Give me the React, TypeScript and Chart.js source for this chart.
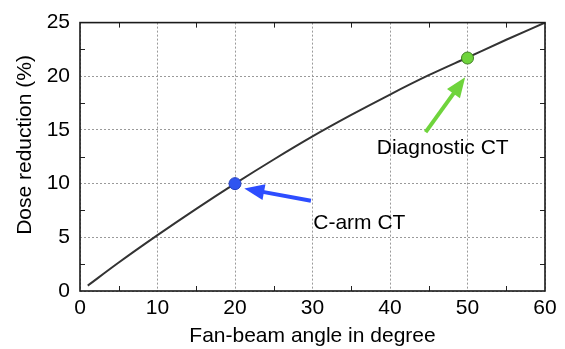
import React, { useEffect, useRef } from "react";
import { Chart, registerables } from "chart.js";

Chart.register(...registerables);

// Curve: fan-beam angle (deg) vs dose reduction (%)
const angles = [1, 5, 10, 15, 20, 25, 30, 35, 40, 45, 50, 55, 60];
const doseReduction = [0.5, 2.65, 5.2, 7.65, 10.0, 12.25, 14.4, 16.4, 18.3, 20.1, 21.75, 23.4, 25.0];

// Highlighted scanners
const markerLabels = ["C-arm CT", "Diagnostic CT"];
const markerX = [20, 50];
const markerY = [10.0, 21.7];
const markerFill = ["#2f55f0", "#6fd43c"];
const markerBorder = ["#2540c0", "#3f7f22"];

// Arrows (tail -> tip) and annotation text positions, in data units
const arrowTailX = [29.8, 44.6];
const arrowTailY = [8.4, 14.8];
const arrowTipX = [21.2, 49.7];
const arrowTipY = [9.55, 19.9];
const arrowColor = ["#2d4dff", "#6fd43c"];
const textX = [30.1, 46.8];
const textY = [6.35, 13.3];
const textAlign = ["left", "center"];

// Axes
const xMin = 0, xMax = 60, xStep = 10, xMinor = [5, 15, 25, 35, 45, 55];
const yMin = 0, yMax = 25, yStep = 5, yMinor = [2.5, 7.5, 12.5, 17.5, 22.5];
const xTitle = "Fan-beam angle in degree";
const yTitle = "Dose reduction (%)";

const FONT = "'Liberation Sans', Arial, sans-serif";
const FS = 21;

const overlay = {
  id: "overlay",
  afterDraw(chart: any) {
    const { ctx, chartArea: a, scales } = chart;
    const xs = scales.x, ys = scales.y;
    ctx.save();
    // minor ticks (inward)
    ctx.strokeStyle = "#222";
    ctx.lineWidth = 1;
    ctx.setLineDash([]);
    const tl = 5;
    xMinor.forEach((v) => {
      const px = Math.round(xs.getPixelForValue(v)) + 0.5;
      ctx.beginPath();
      ctx.moveTo(px, a.bottom); ctx.lineTo(px, a.bottom - tl);
      ctx.moveTo(px, a.top); ctx.lineTo(px, a.top + tl);
      ctx.stroke();
    });
    yMinor.forEach((v) => {
      const py = Math.round(ys.getPixelForValue(v)) + 0.5;
      ctx.beginPath();
      ctx.moveTo(a.left, py); ctx.lineTo(a.left + tl, py);
      ctx.moveTo(a.right, py); ctx.lineTo(a.right - tl, py);
      ctx.stroke();
    });
    // frame
    ctx.strokeStyle = "#1a1a1a";
    ctx.lineWidth = 1.6;
    ctx.strokeRect(a.left, a.top, a.right - a.left, a.bottom - a.top);

    // arrows
    for (let i = 0; i < arrowTailX.length; i++) {
      const x0 = xs.getPixelForValue(arrowTailX[i]);
      const y0 = ys.getPixelForValue(arrowTailY[i]);
      const x1 = xs.getPixelForValue(arrowTipX[i]);
      const y1 = ys.getPixelForValue(arrowTipY[i]);
      const ang = Math.atan2(y1 - y0, x1 - x0);
      const hl = 20, hw = 8;
      const bx = x1 - hl * Math.cos(ang), by = y1 - hl * Math.sin(ang);
      ctx.strokeStyle = arrowColor[i];
      ctx.fillStyle = arrowColor[i];
      ctx.lineWidth = 4;
      ctx.lineCap = "butt";
      ctx.beginPath();
      ctx.moveTo(x0, y0);
      ctx.lineTo(bx + 4 * Math.cos(ang), by + 4 * Math.sin(ang));
      ctx.stroke();
      ctx.beginPath();
      ctx.moveTo(x1, y1);
      ctx.lineTo(bx + hw * Math.sin(ang), by - hw * Math.cos(ang));
      ctx.lineTo(bx - hw * Math.sin(ang), by + hw * Math.cos(ang));
      ctx.closePath();
      ctx.fill();
    }
    // labels
    ctx.fillStyle = "#000";
    ctx.font = `${FS}px ${FONT}`;
    ctx.textBaseline = "middle";
    for (let i = 0; i < markerLabels.length; i++) {
      ctx.textAlign = textAlign[i] as CanvasTextAlign;
      ctx.fillText(markerLabels[i], xs.getPixelForValue(textX[i]), ys.getPixelForValue(textY[i]));
    }
    // y-axis title
    ctx.save();
    ctx.translate(25, 145);
    ctx.rotate(-Math.PI / 2);
    ctx.textAlign = "center";
    ctx.textBaseline = "middle";
    ctx.fillText(yTitle, 0, 0);
    ctx.restore();
    ctx.restore();
  },
};

export default function App() {
  const ref = useRef<HTMLCanvasElement>(null);
  useEffect(() => {
    if (!ref.current) return;
    const grid = {
      color: "#9a9a9a",
      lineWidth: 1,
      drawTicks: false,
    };
    const chart = new Chart(ref.current, {
      type: "scatter",
      data: {
        datasets: [
          {
            type: "line",
            data: angles.map((x, i) => ({ x, y: doseReduction[i] })),
            borderColor: "#333333",
            borderWidth: 2,
            pointRadius: 0,
            cubicInterpolationMode: "monotone",
            order: 3,
          } as any,
          ...markerX.map((x, i) => ({
            data: [{ x, y: markerY[i] }],
            backgroundColor: markerFill[i],
            borderColor: markerBorder[i],
            borderWidth: 1,
            pointRadius: 6,
            order: 1,
          })),
        ],
      },
      options: {
        responsive: false,
        animation: false,
        layout: { padding: { top: 16, right: 20, left: 0, bottom: 0 } },
        plugins: { legend: { display: false }, tooltip: { enabled: false } },
        scales: {
          x: {
            type: "linear",
            min: xMin,
            max: xMax,
            ticks: { stepSize: xStep, padding: 5, color: "#000", font: { family: FONT, size: FS } },
            grid: grid as any,
            border: { display: false, dash: [2, 2] },
            title: {
              display: true,
              text: xTitle,
              color: "#000",
              font: { family: FONT, size: FS },
              padding: { top: 0, bottom: 0 },
            },
            afterFit: (s: any) => { s.height = 58; },
          },
          y: {
            min: yMin,
            max: yMax,
            ticks: { stepSize: yStep, padding: 10, color: "#000", font: { family: FONT, size: FS } },
            grid: grid as any,
            border: { display: false, dash: [2, 2] },
            afterFit: (s: any) => { s.width = 80; },
          },
        },
      },
      plugins: [overlay],
    });
    return () => chart.destroy();
  }, []);
  return (
    <div style={{ position: "absolute", left: 0, top: 0, width: 565, height: 349, background: "#fff" }}>
      <canvas ref={ref} width={565} height={349} />
    </div>
  );
}
